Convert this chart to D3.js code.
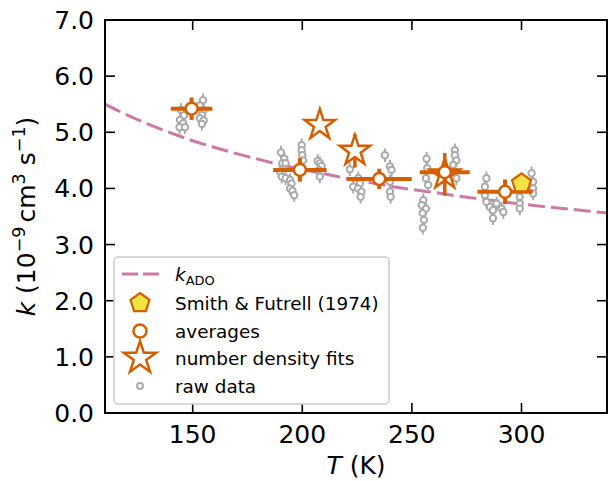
<!DOCTYPE html>
<html>
<head>
<meta charset="utf-8">
<script src="https://d3js.org/d3.v7.min.js"></script>
<style>
    body { margin: 0; background: #fff; }
    text { font-family: "DejaVu Sans", sans-serif; }
</style>
</head>
<body>
<svg id="chart" width="609" height="481"></svg>
<script>
    // k_ADO curve
    const adoT = [110, 120, 130, 140, 150, 160, 170, 180, 190, 200, 210, 220, 230, 240, 250, 260, 270, 280, 290, 300, 310, 320, 330, 339];
    const adoK = [5.50, 5.31, 5.14, 4.99, 4.85, 4.73, 4.62, 4.52, 4.42, 4.34, 4.26, 4.18, 4.11, 4.04, 3.98, 3.93, 3.87, 3.82, 3.77, 3.72, 3.68, 3.64, 3.60, 3.56];

    // raw data
    const rawT = [144.7, 146.0, 144.2, 145.6, 144.0, 146.5,
        154.7, 153.3, 155.0, 154.2, 153.3, 155.0, 154.2,
        190.3, 191.8, 190.9, 192.4, 189.8, 190.6, 192.4, 194.4, 195.1, 194.4, 195.5, 196.3,
        199.7, 199.7, 200.0, 200.4,
        207.0, 208.0, 208.8, 207.6, 208.0,
        221.7, 225.5, 226.3, 223.2, 225.5, 227.0, 226.6,
        237.7, 240.0, 240.7, 240.0, 240.0, 240.3,
        256.7, 257.0, 256.4, 257.4, 255.2, 254.5, 256.4, 254.9, 255.5, 255.0,
        269.6, 269.6, 270.3, 268.8, 269.6, 270.3,
        284.0, 283.3, 283.3, 284.0, 285.6, 287.0, 287.0, 288.6, 290.9, 291.7,
        299.2, 299.2, 299.2, 304.6, 305.3, 305.3, 305.3];
    const rawK = [5.40, 5.30, 5.22, 5.16, 5.09, 5.09,
        5.57, 5.48, 5.40, 5.31, 5.25, 5.21, 5.15,
        4.64, 4.53, 4.45, 4.45, 4.30, 4.21, 4.18, 4.15, 4.09, 4.00, 3.96, 3.88,
        4.77, 4.68, 4.59, 4.50,
        4.49, 4.45, 4.40, 4.33, 4.21,
        4.34, 4.18, 4.09, 4.03, 4.00, 3.94, 3.85,
        4.59, 4.39, 4.33, 4.12, 3.94, 3.85,
        4.53, 4.36, 4.18, 4.06, 3.79, 3.70, 3.64, 3.56, 3.44, 3.30,
        4.68, 4.59, 4.50, 4.42, 4.30, 4.18,
        4.18, 4.03, 3.88, 3.76, 3.67, 3.61, 3.47, 3.73, 3.64, 3.58,
        3.85, 3.73, 3.64, 4.27, 4.12, 4.00, 3.91];
    const rawErr = 0.12;

    // averages
    const avgT = [149.5, 198.9, 235.1, 265.0, 292.5];
    const avgK = [5.42, 4.33, 4.17, 4.29, 3.94];
    const avgTErr = [9.5, 12.2, 14.8, 11.4, 12.6];
    const avgKErr = [0.2, 0.21, 0.18, 0.2, 0.22];

    // number density fits
    const starT = [208, 224, 265];
    const starK = [5.13, 4.67, 4.25];
    const starErr = [0.1, 0.3, 0.38];

    // Smith & Futrell (1974)
    const smithT = [300];
    const smithK = [4.09];

    const xTicks = [150, 200, 250, 300];
    const yTicks = [0, 1, 2, 3, 4, 5, 6, 7];

    const orange = "#D55E00", pink = "#CC79A7", gray = "#aaaaaa", yellow = "#F0E442";
    const mLeft = 105, mRight = 607, mTop = 20, mBottom = 413;

    const svg = d3.select("#chart");
    const x = d3.scaleLinear().domain([110, 339]).range([mLeft, mRight]);
    const y = d3.scaleLinear().domain([0, 7]).range([mBottom, mTop]);

    function starPath(R) {
        const r = R * 0.382;
        let pts = [];
        for (let i = 0; i < 10; i++) {
            const a = -Math.PI / 2 + i * Math.PI / 5;
            const rr = i % 2 ? r : R;
            pts.push([rr * Math.cos(a), rr * Math.sin(a)]);
        }
        return "M" + pts.map(p => p.join(",")).join("L") + "Z";
    }
    function pentPath(R) {
        let pts = [];
        for (let i = 0; i < 5; i++) {
            const a = -Math.PI / 2 + i * 2 * Math.PI / 5;
            pts.push([R * Math.cos(a), R * Math.sin(a)]);
        }
        return "M" + pts.map(p => p.join(",")).join("L") + "Z";
    }

    const plot = svg.append("g");
    plot.append("clipPath").attr("id", "clip").append("rect")
        .attr("x", mLeft).attr("y", mTop).attr("width", mRight - mLeft).attr("height", mBottom - mTop);
    const g = plot.append("g").attr("clip-path", "url(#clip)");

    // ADO line
    g.append("path")
        .datum(adoT.map((t, i) => [t, adoK[i]]))
        .attr("d", d3.line().x(d => x(d[0])).y(d => y(d[1])).curve(d3.curveMonotoneX))
        .attr("fill", "none")
        .attr("stroke", pink)
        .attr("stroke-width", 3)
        .attr("stroke-dasharray", "17,6");

    // raw data
    const raw = rawT.map((t, i) => ({ t: t, k: rawK[i] }));
    g.selectAll(".rawbar").data(raw).join("line")
        .attr("x1", d => x(d.t)).attr("x2", d => x(d.t))
        .attr("y1", d => y(d.k - rawErr)).attr("y2", d => y(d.k + rawErr))
        .attr("stroke", gray).attr("stroke-width", 2);
    g.selectAll(".raw").data(raw).join("circle")
        .attr("cx", d => x(d.t)).attr("cy", d => y(d.k)).attr("r", 3.2)
        .attr("fill", "#fff").attr("stroke", gray).attr("stroke-width", 2);

    // stars
    starT.forEach((t, i) => {
        g.append("line")
            .attr("x1", x(t)).attr("x2", x(t))
            .attr("y1", y(starK[i] - starErr[i])).attr("y2", y(starK[i] + starErr[i]))
            .attr("stroke", orange).attr("stroke-width", 3.5);
        g.append("path")
            .attr("d", starPath(16))
            .attr("transform", `translate(${x(t)},${y(starK[i])})`)
            .attr("fill", "#fff").attr("stroke", orange).attr("stroke-width", 2.5)
            .attr("stroke-linejoin", "miter");
    });

    // averages
    avgT.forEach((t, i) => {
        g.append("line")
            .attr("x1", x(t - avgTErr[i])).attr("x2", x(t + avgTErr[i]))
            .attr("y1", y(avgK[i])).attr("y2", y(avgK[i]))
            .attr("stroke", orange).attr("stroke-width", 4);
        g.append("line")
            .attr("x1", x(t)).attr("x2", x(t))
            .attr("y1", y(avgK[i] - avgKErr[i])).attr("y2", y(avgK[i] + avgKErr[i]))
            .attr("stroke", orange).attr("stroke-width", 4);
        g.append("circle")
            .attr("cx", x(t)).attr("cy", y(avgK[i])).attr("r", 6)
            .attr("fill", "#fff").attr("stroke", orange).attr("stroke-width", 2.5);
    });

    // Smith & Futrell
    smithT.forEach((t, i) => {
        g.append("path")
            .attr("d", pentPath(10))
            .attr("transform", `translate(${x(t)},${y(smithK[i])})`)
            .attr("fill", yellow).attr("stroke", orange).attr("stroke-width", 2.2);
    });

    // frame
    svg.append("rect")
        .attr("x", mLeft).attr("y", mTop).attr("width", mRight - mLeft).attr("height", mBottom - mTop)
        .attr("fill", "none").attr("stroke", "#000").attr("stroke-width", 2);

    // ticks, inward, all four sides
    const tl = 10;
    const tickG = svg.append("g").attr("stroke", "#000").attr("stroke-width", 1.6);
    xTicks.forEach(t => {
        tickG.append("line").attr("x1", x(t)).attr("x2", x(t)).attr("y1", mBottom).attr("y2", mBottom - tl);
        tickG.append("line").attr("x1", x(t)).attr("x2", x(t)).attr("y1", mTop).attr("y2", mTop + tl);
    });
    yTicks.forEach(v => {
        tickG.append("line").attr("x1", mLeft).attr("x2", mLeft + tl).attr("y1", y(v)).attr("y2", y(v));
        tickG.append("line").attr("x1", mRight).attr("x2", mRight - tl).attr("y1", y(v)).attr("y2", y(v));
    });

    svg.selectAll(".xt").data(xTicks).join("text")
        .attr("x", d => x(d)).attr("y", 443)
        .attr("text-anchor", "middle").attr("font-size", 25)
        .text(d => d);
    svg.selectAll(".yt").data(yTicks).join("text")
        .attr("x", 94).attr("y", d => y(d) + 9)
        .attr("text-anchor", "end").attr("font-size", 25)
        .text(d => d.toFixed(1));

    // axis labels
    const xl = svg.append("text").attr("x", (mLeft + mRight) / 2).attr("y", 474)
        .attr("text-anchor", "middle").attr("font-size", 25);
    xl.append("tspan").attr("font-style", "italic").text("T");
    xl.append("tspan").text(" (K)");

    const yl = svg.append("text")
        .attr("transform", `translate(35,${(mTop + mBottom) / 2}) rotate(-90)`)
        .attr("text-anchor", "middle").attr("font-size", 25);
    yl.append("tspan").attr("font-style", "italic").text("k");
    yl.append("tspan").text(" (10");
    yl.append("tspan").attr("font-size", 17.5).attr("dy", -10).text("\u22129");
    yl.append("tspan").attr("dy", 10).attr("dx", 4).text("cm");
    yl.append("tspan").attr("font-size", 17.5).attr("dy", -10).text("3");
    yl.append("tspan").attr("dy", 10).text(" s");
    yl.append("tspan").attr("font-size", 17.5).attr("dy", -10).text("\u22121");
    yl.append("tspan").attr("dy", 10).text(")");

    // legend
    const leg = svg.append("g");
    leg.append("rect")
        .attr("x", 114).attr("y", 257).attr("width", 275).attr("height", 147)
        .attr("rx", 4).attr("fill", "#fff").attr("fill-opacity", 0.8)
        .attr("stroke", "#cccccc").attr("stroke-width", 1.5);
    const ly = [274, 303, 331, 358, 386];
    const mx = 140, tx = 175, fs = 18.4;
    leg.append("line").attr("x1", 122).attr("x2", 159).attr("y1", ly[0]).attr("y2", ly[0])
        .attr("stroke", pink).attr("stroke-width", 3).attr("stroke-dasharray", "16,5");
    leg.append("path").attr("d", pentPath(10)).attr("transform", `translate(${mx},${ly[1]})`)
        .attr("fill", yellow).attr("stroke", orange).attr("stroke-width", 2.2);
    leg.append("circle").attr("cx", mx).attr("cy", ly[2]).attr("r", 6.5)
        .attr("fill", "#fff").attr("stroke", orange).attr("stroke-width", 2.5);
    leg.append("path").attr("d", starPath(17)).attr("transform", `translate(${mx},${ly[3]})`)
        .attr("fill", "#fff").attr("stroke", orange).attr("stroke-width", 2.5);
    leg.append("circle").attr("cx", mx).attr("cy", ly[4]).attr("r", 3)
        .attr("fill", "#fff").attr("stroke", gray).attr("stroke-width", 2);

    const t0 = leg.append("text").attr("x", tx).attr("y", ly[0] + 7).attr("font-size", fs);
    t0.append("tspan").attr("font-style", "italic").text("k");
    t0.append("tspan").attr("font-size", 13).attr("dy", 4).text("ADO");
    const labels = ["Smith & Futrell (1974)", "averages", "number density fits", "raw data"];
    labels.forEach((s, i) => {
        leg.append("text").attr("x", tx).attr("y", ly[i + 1] + 7).attr("font-size", fs).text(s);
    });
</script>
</body>
</html>
